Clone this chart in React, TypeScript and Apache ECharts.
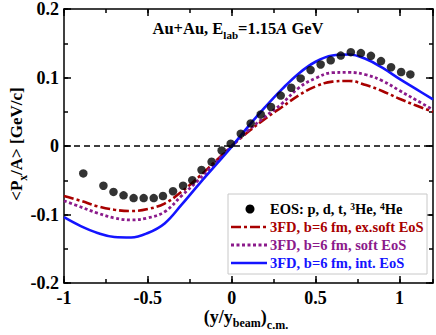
import React, { useEffect, useRef } from 'react';
import * as echarts from 'echarts';

const modelX = [-1, -0.9, -0.8, -0.7, -0.6, -0.5, -0.4, -0.3, -0.2, -0.1, 0, 0.1, 0.2, 0.3, 0.4, 0.5, 0.6, 0.7, 0.8, 0.9, 1.0, 1.1, 1.2];
const intEoS = [-0.104, -0.117, -0.127, -0.1328, -0.1335, -0.127, -0.113, -0.086, -0.057, -0.029, -0.001, 0.029, 0.057, 0.083, 0.106, 0.123, 0.132, 0.1335, 0.127, 0.114, 0.098, 0.083, 0.068];
const softEoS = [-0.080, -0.089, -0.098, -0.105, -0.108, -0.105, -0.096, -0.073, -0.050, -0.025, 0.000, 0.023, 0.043, 0.062, 0.085, 0.099, 0.107, 0.1075, 0.104, 0.095, 0.081, 0.067, 0.053];
const exSoftEoS = [-0.073, -0.080, -0.088, -0.093, -0.095, -0.092, -0.084, -0.067, -0.046, -0.023, 0.000, 0.021, 0.040, 0.057, 0.074, 0.087, 0.094, 0.095, 0.089, 0.080, 0.069, 0.059, 0.050];

const eosX = [-0.885, -0.765, -0.705, -0.645, -0.585, -0.525, -0.465, -0.41, -0.35, -0.29, -0.235, -0.18, -0.12, -0.06, -0.006, 0.054, 0.113, 0.173, 0.234, 0.292, 0.355, 0.411, 0.47, 0.53, 0.59, 0.65, 0.71, 0.77, 0.83, 0.89, 0.95, 1.01, 1.065];
const eosY = [-0.040, -0.058, -0.067, -0.072, -0.076, -0.076, -0.076, -0.073, -0.066, -0.058, -0.050, -0.035, -0.023, -0.0065, 0.0033, 0.018, 0.033, 0.046, 0.057, 0.0736, 0.085, 0.0987, 0.111, 0.119, 0.125, 0.132, 0.137, 0.1356, 0.1316, 0.124, 0.115, 0.108, 0.1045];

const legendLabels = [
  'EOS: p, d, t, {sup|3}He, {sup|4}He',
  '3FD, b=6 fm, ex.soft EoS',
  '3FD, b=6 fm, soft EoS',
  '3FD, b=6 fm, int. EoS',
];
const titleText = 'Au+Au, E{sub|lab}=1.15{it|A} GeV';
const yTitle = '<P{sub|x}/A> [GeV/c]';
const xTitle = '(y/y{sub|beam}){sub2|c.m.}';

const FONT = '"Liberation Serif", "Times New Roman", serif';
const RED = '#a80000';
const PURPLE = '#8b1a8b';
const BLUE = '#1414ff';

const App: React.FC = () => {
  const ref = useRef<HTMLDivElement>(null);
  useEffect(() => {
    if (!ref.current) return;
    const chart = echarts.init(ref.current, null, { renderer: 'svg' });
    const xMin = -1, xMax = 1.2, yMin = -0.2, yMax = 0.2;
    const tickLbl = { color: '#000', fontFamily: FONT, fontWeight: 'bold' as const, fontSize: 18 };
    const mkX = (pos: 'bottom' | 'top', interval: number, len: number, labels: boolean, line: boolean) => ({
      type: 'value', min: xMin, max: xMax, interval, position: pos,
      axisLine: { show: line, onZero: false, lineStyle: { color: '#000', width: 1.5 } },
      axisTick: { show: true, inside: true, length: len, lineStyle: { color: '#000', width: 1.5 } },
      axisLabel: labels ? {
        show: true, margin: 6, ...tickLbl, showMaxLabel: false,
        formatter: (v: number) => {
          const r = Math.round(v * 2) / 2;
          return Math.abs(v - r) < 1e-6 && v <= 1.0001 ? String(r) : '';
        },
      } : { show: false },
      splitLine: { show: false },
    });
    const mkY = (pos: 'left' | 'right', interval: number, len: number, labels: boolean, line: boolean) => ({
      type: 'value', min: yMin, max: yMax, interval, position: pos,
      axisLine: { show: line, onZero: false, lineStyle: { color: '#000', width: 1.5 } },
      axisTick: { show: true, inside: true, length: len, lineStyle: { color: '#000', width: 1.5 } },
      axisLabel: labels ? {
        show: true, margin: 5, ...tickLbl,
        formatter: (v: number) => String(Math.round(v * 10) / 10),
      } : { show: false },
      splitLine: { show: false },
    });

    const lineData = (ys: number[]) => modelX.map((x, i) => [x, ys[i]]);
    const legendY = [209, 227, 245, 263];
    const richBase = { fontFamily: FONT, fontWeight: 'bold' as const };

    chart.setOption({
      animation: false,
      backgroundColor: '#fff',
      grid: { left: 64, right: 3, top: 6, bottom: 52, containLabel: false },
      xAxis: [
        mkX('bottom', 0.5, 7, true, true),
        mkX('bottom', 0.25, 4, false, false),
        mkX('top', 0.5, 7, false, true),
        mkX('top', 0.25, 4, false, false),
      ],
      yAxis: [
        mkY('left', 0.1, 7, true, true),
        mkY('left', 0.05, 4, false, false),
        mkY('right', 0.1, 7, false, true),
        mkY('right', 0.05, 4, false, false),
      ],
      series: [
        {
          type: 'line', name: 'ex.soft', data: lineData(exSoftEoS), smooth: 0.4, symbol: 'none',
          lineStyle: { color: RED, width: 2.6, type: [10, 3, 3, 3] },
          markLine: {
            silent: true, symbol: 'none', label: { show: false },
            lineStyle: { color: '#000', width: 1.5, type: [6, 4] },
            data: [{ yAxis: 0 }],
          },
        },
        {
          type: 'line', name: 'soft', data: lineData(softEoS), smooth: 0.4, symbol: 'none',
          lineStyle: { color: PURPLE, width: 2.8, type: [3, 2.5] },
        },
        {
          type: 'line', name: 'int', data: lineData(intEoS), smooth: 0.4, symbol: 'none',
          lineStyle: { color: BLUE, width: 2.6, type: 'solid' },
        },
        {
          type: 'scatter', name: 'EOS', data: eosX.map((x, i) => [x, eosY[i]]),
          symbol: 'circle', symbolSize: 8.5, itemStyle: { color: '#000' }, z: 5,
        },
      ],
      graphic: [
        {
          type: 'text', x: 238, y: 28, z: 10,
          style: {
            text: titleText, align: 'center', verticalAlign: 'middle', fill: '#000',
            fontFamily: FONT, fontWeight: 'bold', fontSize: 16.5,
            rich: {
              sub: { ...richBase, fontSize: 11, verticalAlign: 'bottom', padding: [0, 0, -4, 0], fill: '#000' },
              it: { ...richBase, fontSize: 16.5, fontStyle: 'italic', fill: '#000' },
            },
          },
        },
        {
          type: 'text', x: 16, y: 144, rotation: Math.PI / 2, z: 10,
          style: {
            text: yTitle, align: 'center', verticalAlign: 'middle', fill: '#000',
            fontFamily: FONT, fontWeight: 'bold', fontSize: 17,
            rich: {
              sub: { ...richBase, fontSize: 11.5, verticalAlign: 'bottom', padding: [0, 0, -4, 0], fill: '#000' },
            },
          },
        },
        {
          type: 'text', x: 246, y: 317, z: 10,
          style: {
            text: xTitle, align: 'center', verticalAlign: 'middle', fill: '#000',
            fontFamily: FONT, fontWeight: 'bold', fontSize: 18,
            rich: {
              sub: { ...richBase, fontSize: 12, verticalAlign: 'bottom', padding: [0, 0, -3, 0], fill: '#000' },
              sub2: { ...richBase, fontSize: 12, verticalAlign: 'bottom', padding: [0, 0, -5, 0], fill: '#000' },
            },
          },
        },
        {
          type: 'rect', shape: { x: 228, y: 194, width: 199, height: 80 }, z: 8,
          style: { fill: '#fff', stroke: '#c8c8c8', lineWidth: 1 },
        },
        {
          type: 'circle', shape: { cx: 250, cy: legendY[0], r: 4.5 }, z: 9,
          style: { fill: '#000' },
        },
        {
          type: 'line', shape: { x1: 231, y1: legendY[1], x2: 267, y2: legendY[1] }, z: 9,
          style: { stroke: RED, lineWidth: 2.6, lineDash: [10, 3, 3, 3] },
        },
        {
          type: 'line', shape: { x1: 231, y1: legendY[2], x2: 267, y2: legendY[2] }, z: 9,
          style: { stroke: PURPLE, lineWidth: 2.8, lineDash: [3, 2.5] },
        },
        {
          type: 'line', shape: { x1: 231, y1: legendY[3], x2: 267, y2: legendY[3] }, z: 9,
          style: { stroke: BLUE, lineWidth: 2.6 },
        },
        ...legendLabels.map((t, i) => ({
          type: 'text', x: 270, y: legendY[i], z: 9,
          style: {
            text: t, align: 'left', verticalAlign: 'middle',
            fill: ['#000', RED, PURPLE, BLUE][i],
            fontFamily: FONT, fontWeight: 'bold', fontSize: 14.5,
            rich: {
              sup: { ...richBase, fontSize: 9.5, verticalAlign: 'top', padding: [0, 0, 5, 0], fill: '#000' },
            },
          },
        })),
      ],
    });
    return () => chart.dispose();
  }, []);
  return (
    <div
      ref={ref}
      style={{ position: 'absolute', left: 0, top: 0, width: 436, height: 335, background: '#fff' }}
    />
  );
};

export default App;
